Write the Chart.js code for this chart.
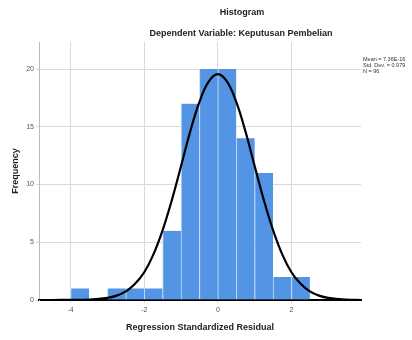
<!DOCTYPE html>
<html>
<head>
<meta charset="utf-8">
<script src="https://cdn.jsdelivr.net/npm/chart.js@4.4.1/dist/chart.umd.min.js"></script>
<style>
  html, body { margin: 0; padding: 0; background: #fff; }
  #wrap { width: 412px; height: 340px; }
</style>
</head>
<body>
<div id="wrap"><canvas id="histChart" width="412" height="340"></canvas></div>
<script>
// histogram bins (centre of each 0.5 wide bin) and their counts
const binCenters = [-3.75, -3.25, -2.75, -2.25, -1.75, -1.25, -0.75, -0.25, 0.25, 0.75, 1.25, 1.75, 2.25]
const binCounts = [1, 0, 1, 1, 1, 6, 17, 20, 20, 14, 11, 2, 2]

// normal curve
const curveX = [-4.86, -4.5, -4, -3.5, -3, -2.75, -2.5, -2.25, -2, -1.75, -1.5, -1.25, -1, -0.75, -0.5, -0.25, 0,
    0.25, 0.5, 0.75, 1, 1.25, 1.5, 1.75, 2, 2.25, 2.5, 2.75, 3, 3.5, 3.89]
const curveY = [0, 0, 0.01, 0.03, 0.18, 0.38, 0.75, 1.4, 2.4, 3.95, 6.05, 8.65, 11.6, 14.6, 17.15, 18.9, 19.55,
    18.9, 17.15, 14.6, 11.6, 8.65, 6.05, 3.95, 2.4, 1.4, 0.75, 0.38, 0.18, 0.03, 0]

// tick labels
const xTicks = [-4, -2, 0, 2]
const yTicks = [0, 5, 10, 15, 20]

// summary text
const statLines = ['Mean = 7.36E-16', 'Std. Dev. = 0.979', 'N = 96']

const FONT = '"Liberation Sans", Arial, sans-serif'

// titles and summary box
const textPlugin = {
    id: 'textPlugin',
    afterDraw(chart) {
        const ctx = chart.ctx
        ctx.save()
        ctx.fillStyle = '#222'
        ctx.textAlign = 'center'
        ctx.textBaseline = 'middle'
        ctx.font = 'bold 9px ' + FONT
        ctx.fillText('Histogram', 242, 13)
        ctx.fillText('Dependent Variable: Keputusan Pembelian', 241, 34)

        ctx.font = '5.5px ' + FONT
        ctx.textAlign = 'left'
        ctx.fillStyle = '#333'
        statLines.forEach((line, i) => {
            ctx.fillText(line, 363, 59 + i * 6)
        })
        ctx.restore()
    }
}

const points = curveX.map((x, i) => ({ x: x, y: curveY[i] }))
const bars = binCenters.map((x, i) => ({ x: x, y: binCounts[i] }))

new Chart(document.getElementById('histChart').getContext('2d'), {
    type: 'bar',
    data: {
        datasets: [
            {
                type: 'line',
                data: points,
                borderColor: '#000',
                borderWidth: 2.2,
                pointRadius: 0,
                tension: 0.4,
                fill: false,
                order: 0
            },
            {
                type: 'bar',
                data: bars,
                backgroundColor: '#5394e4',
                borderColor: '#c9dcf5',
                borderWidth: { left: 1, right: 0, top: 0, bottom: 0 },
                borderSkipped: false,
                barPercentage: 1,
                categoryPercentage: 1,
                order: 1
            }
        ]
    },
    options: {
        responsive: false,
        animation: false,
        layout: { padding: { left: 10, right: 51, top: 42, bottom: 0 } },
        plugins: {
            legend: { display: false },
            tooltip: { enabled: false },
            title: { display: false }
        },
        scales: {
            x: {
                type: 'linear',
                min: -4.86,
                max: 3.89,
                offset: false,
                afterBuildTicks: scale => { scale.ticks = xTicks.map(v => ({ value: v })) },
                afterFit: scale => { scale.height = 40 },
                grid: { offset: false, color: '#d9d9d9', lineWidth: 1, drawTicks: true, tickLength: 3, tickColor: '#d9d9d9' },
                border: { display: true, color: '#000', width: 2 },
                ticks: { color: '#555', font: { family: FONT, size: 7 }, padding: 3, maxRotation: 0 },
                title: {
                    display: true,
                    text: 'Regression Standardized Residual',
                    color: '#222',
                    font: { family: FONT, size: 9, weight: 'bold' },
                    padding: { top: 7, bottom: 7 }
                }
            },
            y: {
                min: 0,
                max: 22.34,
                afterBuildTicks: scale => { scale.ticks = yTicks.map(v => ({ value: v })) },
                afterFit: scale => { scale.width = 29 },
                grid: { color: '#d9d9d9', lineWidth: 1, tickLength: 3, tickColor: '#d9d9d9' },
                border: { display: true, color: '#bbb', width: 1 },
                ticks: { color: '#555', font: { family: FONT, size: 7 }, padding: 2 },
                title: {
                    display: true,
                    text: 'Frequency',
                    color: '#222',
                    font: { family: FONT, size: 9, weight: 'bold' },
                    padding: { top: 0, bottom: 1 }
                }
            }
        }
    },
    plugins: [textPlugin]
})
</script>
</body>
</html>
